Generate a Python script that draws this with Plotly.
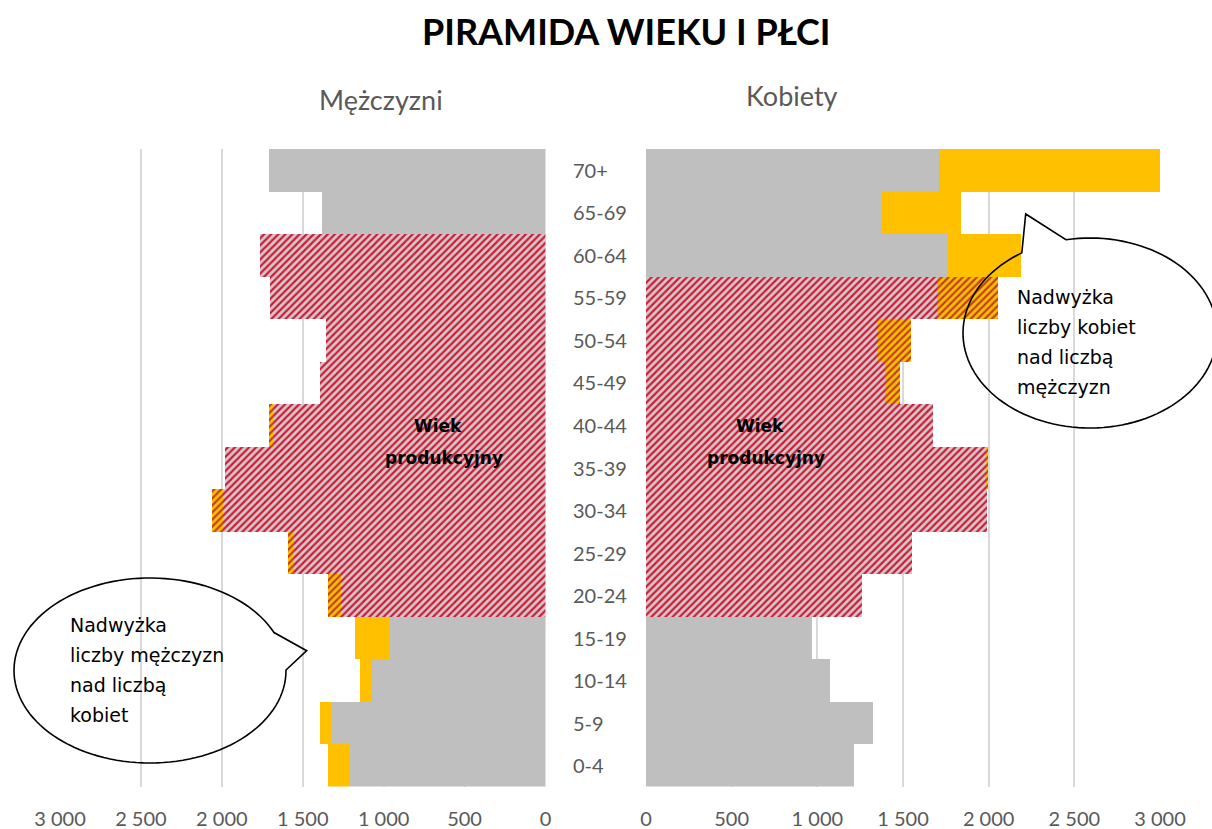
import numpy as np
import plotly.graph_objects as go

# ---------------- data ----------------
ages = ["0-4", "5-9", "10-14", "15-19", "20-24", "25-29", "30-34", "35-39",
        "40-44", "45-49", "50-54", "55-59", "60-64", "65-69", "70+"]
men = [1344, 1396, 1148, 1179, 1344, 1593, 2059, 1983, 1709, 1396, 1354, 1701, 1763, 1378, 1709]
women = [1216, 1327, 1071, 966, 1262, 1555, 1990, 1995, 1675, 1482, 1548, 2055, 2187, 1839, 3000]
men_productive = ["20-24", "25-29", "30-34", "35-39", "40-44", "45-49", "50-54", "55-59", "60-64"]
women_productive = ["20-24", "25-29", "30-34", "35-39", "40-44", "45-49", "50-54", "55-59"]
tick_vals = [0, 500, 1000, 1500, 2000, 2500, 3000]
tick_text = ["0", "500", "1 000", "1 500", "2 000", "2 500", "3 000"]

title_text = "PIRAMIDA WIEKU I PŁCI"
men_title = "Mężczyzni"
women_title = "Kobiety"
productive_lines = ["Wiek", "produkcyjny"]
men_note = ["Nadwyżka", "liczby mężczyzn", "nad liczbą", "kobiet"]
women_note = ["Nadwyżka", "liczby kobiet", "nad liczbą", "mężczyzn"]

# ---------------- style ----------------
W, H = 1212, 829
GRAY = "#bfbfbf"
ORANGE = "#ffc000"
HATCH_FG = "#c81e38"
HATCH_BG = "#d8c6c8"
ORANGE_HATCH_FG = "#c0401c"
GRID = "#d9d9d9"
TXT_GRAY = "#595959"


def px(x):
    return x / W


def py(y):
    return 1 - y / H


def bar(values, xaxis, color, hatched, fg):
    pattern = dict(shape="/", fillmode="replace", fgcolor=fg, bgcolor=color,
                   fgopacity=1, size=5, solidity=0.45) if hatched else dict(shape="")
    return go.Bar(y=ages, x=values, orientation="h", xaxis=xaxis, yaxis="y",
                  marker=dict(color=color, line=dict(width=0), pattern=pattern),
                  hoverinfo="skip", showlegend=False)


def side_traces(own, other, productive, xaxis):
    base = [min(a, b) for a, b in zip(own, other)]
    extra = [max(a - b, 0) for a, b in zip(own, other)]
    prod = [a in productive for a in ages]
    base_p = [v if p else 0 for v, p in zip(base, prod)]
    base_n = [0 if p else v for v, p in zip(base, prod)]
    extra_p = [v if p else 0 for v, p in zip(extra, prod)]
    extra_n = [0 if p else v for v, p in zip(extra, prod)]
    return [
        bar(base_p, xaxis, HATCH_BG, True, HATCH_FG),
        bar(base_n, xaxis, GRAY, False, None),
        bar(extra_p, xaxis, ORANGE, True, ORANGE_HATCH_FG),
        bar(extra_n, xaxis, ORANGE, False, None),
    ]


fig = go.Figure()
for t in side_traces(men, women, men_productive, "x"):
    fig.add_trace(t)
for t in side_traces(women, men, women_productive, "x2"):
    fig.add_trace(t)

axis_common = dict(
    tickvals=tick_vals, ticktext=tick_text, showgrid=True, gridcolor=GRID, gridwidth=1.6,
    zeroline=False, showline=False, ticks="", anchor="y", automargin=False,
    tickfont=dict(family="Lato", size=20, color=TXT_GRAY), ticklabelstandoff=18,
    fixedrange=True,
)

fig.update_layout(
    template="none",
    width=W, height=H,
    margin=dict(l=0, r=0, t=0, b=0, pad=0, autoexpand=False),
    paper_bgcolor="white", plot_bgcolor="white",
    barmode="stack", bargap=0,
    xaxis=dict(domain=[px(60), px(545.5)], range=[3000, 0], **axis_common),
    xaxis2=dict(domain=[px(646), px(1160)], range=[0, 3000], **axis_common),
    yaxis=dict(domain=[py(786.5), py(148.5)], type="category", categoryorder="array",
               categoryarray=ages, range=[-0.5, len(ages) - 0.5], showticklabels=False,
               showgrid=False, zeroline=False, showline=False, ticks="",
               automargin=False, fixedrange=True),
)

ann = []
ann.append(dict(text=f"<b>{title_text}</b>", x=px(626), y=py(31), xref="paper", yref="paper",
                xanchor="center", yanchor="middle", showarrow=False,
                font=dict(family="Lato", size=36, color="black")))
ann.append(dict(text=men_title, x=px(381), y=py(99), xref="paper", yref="paper",
                xanchor="center", yanchor="middle", showarrow=False,
                font=dict(family="Lato", size=27, color=TXT_GRAY)))
ann.append(dict(text=women_title, x=px(792), y=py(95), xref="paper", yref="paper",
                xanchor="center", yanchor="middle", showarrow=False,
                font=dict(family="Lato", size=27, color=TXT_GRAY)))
for a in ages:
    ann.append(dict(text=a, x=px(571), y=a, xref="paper", yref="y",
                    xanchor="left", yanchor="middle", showarrow=False,
                    font=dict(family="Lato", size=20, color=TXT_GRAY)))
for cx in (438, 760):
    for i, line in enumerate(productive_lines):
        ann.append(dict(text=f"<b>{line}</b>", x=px(cx + 6 * i), y=py(426 + 32 * i),
                        xref="paper", yref="paper", xanchor="center", yanchor="middle",
                        showarrow=False, font=dict(family="DejaVu Sans", size=17, color="black")))
for (x0, y0, lines) in ((68, 625, men_note), (1015, 297, women_note)):
    for i, line in enumerate(lines):
        ann.append(dict(text=line, x=px(x0), y=py(y0 + 30 * i), xref="paper", yref="paper",
                        xanchor="left", yanchor="middle", showarrow=False,
                        font=dict(family="DejaVu Sans", size=19, color="black")))
fig.update_layout(annotations=ann)


def bubble_path(cx, cy, rx, ry, pa, pb, tip, n=120):
    ta = np.arctan2((pa[1] - cy) / ry, (pa[0] - cx) / rx)
    tb = np.arctan2((pb[1] - cy) / ry, (pb[0] - cx) / rx)
    if ta < tb:
        ta += 2 * np.pi
    ts = np.linspace(tb, ta, n)
    pts = [(cx + rx * np.cos(t), cy + ry * np.sin(t)) for t in ts]
    pts.append(tip)
    d = "M " + " L ".join(f"{px(x):.5f},{py(y):.5f}" for x, y in pts) + " Z"
    return d


shapes = [
    dict(type="path", xref="paper", yref="paper",
         path=bubble_path(150, 670.5, 136, 92.5, (276.7, 631.7), (285.5, 670), (306.7, 650.7)),
         line=dict(color="black", width=1.6), fillcolor="rgba(0,0,0,0)", layer="above"),
    dict(type="path", xref="paper", yref="paper",
         path=bubble_path(1090, 333, 127, 95, (1021.7, 252.7), (1066, 240), (1025.7, 214)),
         line=dict(color="black", width=1.6), fillcolor="rgba(0,0,0,0)", layer="above"),
]
fig.update_layout(shapes=shapes)

fig.write_html("out.html", config=dict(displayModeBar=False),
               post_script="document.body.style.margin='0';document.body.style.overflow='hidden';")
